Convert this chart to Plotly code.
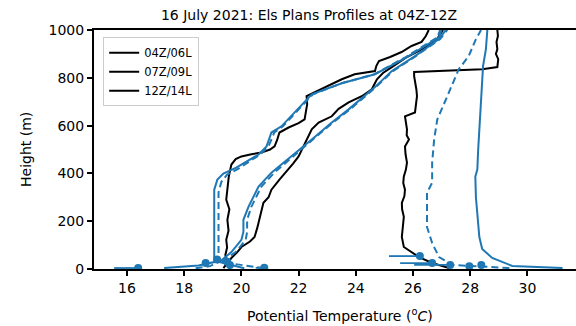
import plotly.graph_objects as go

# ---------------- data ----------------
# Observed profiles (black)
obs04_z = [0, 10, 30, 59, 90, 122, 160, 206, 250, 290, 330, 353, 387, 410, 437, 460, 471, 480, 487, 500,
           513, 540, 571, 592, 610, 626, 660, 690, 723, 739, 765, 794, 815, 828, 850, 870, 887, 908, 933,
           950, 975, 1000]
obs04_t = [19.6, 19.55, 19.48, 19.44, 19.5, 19.47, 19.55, 19.51, 19.58, 19.47, 19.5, 19.54, 19.56, 19.6,
           19.65, 19.8, 20.0, 20.35, 20.7, 21.0, 21.16, 21.25, 21.33, 21.65, 22.0, 22.21, 22.25, 22.3,
           22.28, 22.56, 23.05, 23.51, 23.96, 24.67, 24.72, 24.81, 25.2, 25.6, 25.95, 26.3, 26.45, 26.55]

obs07_z = [4, 25, 46, 70, 92, 115, 134, 170, 206, 240, 277, 300, 332, 374, 416, 440, 471, 510, 542, 584,
           613, 639, 670, 697, 723, 752, 794, 820, 845, 887, 920, 962, 1000]
obs07_t = [19.37, 19.5, 19.65, 19.85, 20.0, 20.3, 20.46, 20.55, 20.63, 20.7, 20.77, 20.95, 21.05, 21.33,
           21.65, 21.8, 22.0, 22.15, 22.28, 22.46, 22.7, 23.16, 23.4, 23.75, 24.21, 24.56, 24.74, 24.95,
           25.26, 25.79, 26.32, 26.84, 27.05]

obs12_z = [4, 25, 50, 92, 134, 175, 218, 250, 277, 305, 332, 360, 387, 415, 445, 480, 513, 542, 560, 584,
           610, 639, 655, 690, 723, 750, 782, 807, 824, 828, 836, 845, 878, 900, 920, 950, 975, 1000]
obs12_t = [27.26, 26.67, 26.21, 25.68, 25.61, 25.65, 25.68, 25.62, 25.61, 25.7, 25.72, 25.66, 25.68,
           25.75, 25.79, 25.74, 25.72, 25.86, 25.78, 25.79, 25.75, 25.72, 26.07, 26.1, 26.14, 26.12,
           26.07, 26.04, 26.04, 26.77, 28.42, 28.95, 28.98, 28.9, 28.95, 28.92, 28.97, 28.95]

# Model profiles (blue, solid and dashed)
m04_z = [4, 15, 29, 100, 200, 332, 374, 399, 424, 479, 513, 571, 597, 731, 777, 815, 887, 969, 1000]
m04_t = [17.3, 18.5, 19.05, 19.05, 19.05, 19.05, 19.16, 19.37, 19.82, 20.6, 20.88, 21.05, 21.4, 22.46,
         23.51, 24.67, 25.79, 26.91, 27.0]
m04d_z = [3, 12, 29, 100, 200, 320, 365, 395, 420, 479, 513, 571, 597, 731, 777, 815, 887, 969, 1000]
m04d_t = [18.4, 18.9, 19.2, 19.2, 19.2, 19.2, 19.3, 19.5, 19.9, 20.65, 20.95, 21.15, 21.45, 22.5, 23.5,
          24.65, 25.75, 26.85, 26.95]

m07_z = [3, 29, 71, 122, 155, 206, 261, 345, 403, 471, 542, 613, 668, 761, 828, 891, 962, 1000]
m07_t = [20.1, 19.23, 19.65, 20.0, 20.07, 20.07, 20.25, 20.6, 21.05, 21.75, 22.46, 23.16, 23.75, 24.67,
         25.26, 26.07, 26.91, 27.15]
m07d_z = [3, 29, 71, 122, 155, 206, 261, 345, 403, 471, 542, 613, 668, 761, 828, 891, 962, 1000]
m07d_t = [20.8, 19.3, 19.8, 20.15, 20.2, 20.2, 20.35, 20.7, 21.15, 21.8, 22.5, 23.2, 23.8, 24.7, 25.3,
          26.1, 26.95, 27.2]

m12_z = [4, 13, 46, 84, 134, 218, 300, 387, 416, 500, 584, 655, 750, 849, 920, 1000]
m12_t = [31.23, 29.47, 28.77, 28.42, 28.32, 28.25, 28.2, 28.18, 28.25, 28.28, 28.32, 28.35, 28.42,
         28.45, 28.55, 28.6]
m12d_z = [4, 17, 50, 109, 176, 250, 319, 361, 445, 542, 626, 723, 836, 891, 962, 1000]
m12d_t = [29.37, 27.37, 26.91, 26.67, 26.49, 26.49, 26.49, 26.67, 26.67, 26.74, 26.85, 27.2, 27.6,
          27.95, 28.2, 28.38]

# Near-surface observation points (blue dots with leftward bars)
sfc_t = [16.39, 20.8, 18.75, 19.15, 19.5, 19.6, 26.24, 26.67, 27.3, 27.97, 28.39]
sfc_z = [4, 5, 25, 40, 30, 17, 54, 25, 17, 12, 17]
sfc_left = [0.84, 0.3, 0.0, 0.0, 0.0, 0.0, 1.08, 1.12, 1.26, 0.0, 0.0]

legend_names = ["04Z/06L", "07Z/09L", "12Z/14L"]
x_ticks = [16, 18, 20, 22, 24, 26, 28, 30]
y_ticks = [0, 200, 400, 600, 800, 1000]

BLUE = "#1f77b4"
fig = go.Figure()

for t, z, name in [(obs04_t, obs04_z, legend_names[0]),
                   (obs07_t, obs07_z, legend_names[1]),
                   (obs12_t, obs12_z, legend_names[2])]:
    fig.add_trace(go.Scatter(x=t, y=z, mode="lines", name=name,
                             line=dict(color="black", width=2)))

for t, z, dash in [(m04_t, m04_z, "solid"), (m04d_t, m04d_z, "7px,4px"),
                   (m07_t, m07_z, "solid"), (m07d_t, m07d_z, "7px,4px"),
                   (m12_t, m12_z, "solid"), (m12d_t, m12d_z, "7px,4px")]:
    fig.add_trace(go.Scatter(x=t, y=z, mode="lines", showlegend=False,
                             line=dict(color=BLUE, width=2, dash=dash)))

fig.add_trace(go.Scatter(
    x=sfc_t, y=sfc_z, mode="markers", showlegend=False,
    marker=dict(color=BLUE, size=8),
    error_x=dict(type="data", symmetric=False, array=[0] * len(sfc_t),
                 arrayminus=sfc_left, width=0, thickness=1.8, color=BLUE)))

fig.update_layout(
    width=576, height=326,
    margin=dict(l=94, r=0, t=30, b=57),
    paper_bgcolor="white", plot_bgcolor="white",
    font=dict(family="DejaVu Sans", size=13, color="black"),
    title=dict(text="16 July 2021: Els Plans Profiles at 04Z-12Z",
               x=309 / 576, xref="container", xanchor="center",
               y=1 - 15 / 326, yref="container", yanchor="middle",
               font=dict(size=14, color="black")),
    showlegend=True,
    legend=dict(x=0.019, y=0.97, xanchor="left", yanchor="top",
                bgcolor="rgba(255,255,255,0.85)", bordercolor="#cccccc", borderwidth=1,
                font=dict(size=11.5), tracegroupgap=0, itemwidth=30),
)

fig.update_xaxes(range=[14.846, 31.70], tickvals=x_ticks, ticks="outside", ticklen=5, tickwidth=1.5,
                 tickcolor="black", showline=True, linecolor="black", linewidth=2, mirror=True,
                 showgrid=False, zeroline=False, tickfont=dict(size=14))
fig.update_yaxes(range=[0, 1000], tickvals=y_ticks, ticks="outside", ticklen=5, tickwidth=1.5,
                 tickcolor="black", showline=True, linecolor="black", linewidth=2, mirror=False,
                 showgrid=False, zeroline=False, tickfont=dict(size=14))

fig.add_annotation(text="Potential Temperature (<sup>o</sup><i>C</i>)", xref="paper", yref="paper",
                   x=(340 - 94) / 482, y=-(315 - 269) / 239, xanchor="center", yanchor="middle",
                   showarrow=False, font=dict(size=14))
fig.add_annotation(text="Height (m)", xref="paper", yref="paper", textangle=-90,
                   x=(26 - 94) / 482, y=(269 - 150) / 239, xanchor="center", yanchor="middle",
                   showarrow=False, font=dict(size=14))

fig.write_html(
    "out.html",
    config={"displayModeBar": False},
    post_script="document.body.style.margin='0';document.body.style.padding='0';"
                "document.documentElement.style.overflow='hidden';",
)
